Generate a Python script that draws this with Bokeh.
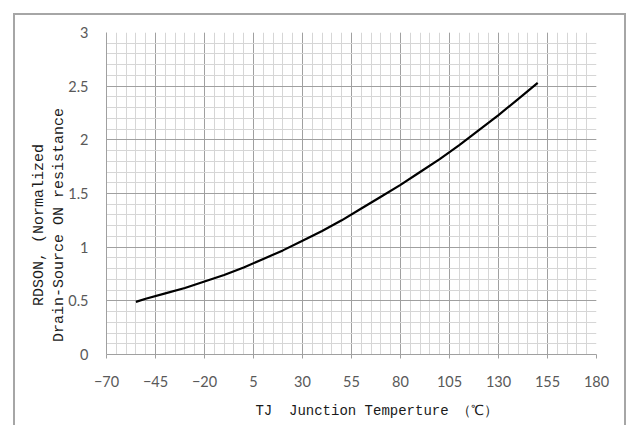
from bokeh.plotting import figure
from bokeh.models import FixedTicker, Range1d
from bokeh.embed import file_html
from bokeh.resources import INLINE
import numpy as np

# Data
temps = [-55, -50, -40, -30, -20, -10, 0, 10, 20, 30, 40, 50, 60, 70, 80, 90, 100, 110, 120, 130, 140, 150]
rdson = [0.49, 0.52, 0.57, 0.62, 0.68, 0.74, 0.81, 0.89, 0.97, 1.06, 1.15, 1.25, 1.36, 1.47, 1.58,
         1.70, 1.82, 1.95, 2.09, 2.23, 2.38, 2.53]

x_ticks = [-70, -45, -20, 5, 30, 55, 80, 105, 130, 155, 180]
x_tick_labels = ["\u221270", "\u221245", "\u221220", "5", "30", "55", "80", "105", "130", "155", "180"]
y_ticks = [0, 0.5, 1, 1.5, 2, 2.5, 3]
y_tick_labels = ["0", "0.5", "1", "1.5", "2", "2.5", "3"]

NB = "\u00a0"
x_title = NB * 6 + "TJ" + NB * 2 + "Junction Temperture \uff08\u2103\uff09"
y_title = "RDSON, (Normalized" + NB * 7 + "\n" + "Drain-Source ON resistance" + NB * 7

frame_css = (
    "linear-gradient(#a6a6a6,#a6a6a6) left 13px top 13px / 2px calc(100% - 13px) no-repeat, "
    "linear-gradient(#a6a6a6,#a6a6a6) left 624px top 13px / 2px calc(100% - 13px) no-repeat, "
    "linear-gradient(#a6a6a6,#a6a6a6) left 13px top 13px / 613px 2px no-repeat, white"
)

p = figure(width=627, height=425, output_backend="svg", toolbar_location=None,
           x_range=Range1d(x_ticks[0], x_ticks[-1]), y_range=Range1d(y_ticks[0], y_ticks[-1]),
           min_border_left=106, min_border_right=31, min_border_top=32, min_border_bottom=71)
p.styles = {"background": frame_css}
p.border_fill_color = None
p.background_fill_color = "white"
p.outline_line_color = None

x_minor = [float(v) for v in np.arange(x_ticks[0], x_ticks[-1] + 0.1, 5)]
y_minor = [round(float(v), 2) for v in np.arange(0, 3.01, 0.1)]
p.xaxis.ticker = FixedTicker(ticks=x_ticks, minor_ticks=x_minor)
p.yaxis.ticker = FixedTicker(ticks=y_ticks, minor_ticks=y_minor)
p.xaxis.major_label_overrides = {t: l for t, l in zip(x_ticks, x_tick_labels)}
p.yaxis.major_label_overrides = {t: l for t, l in zip(y_ticks, y_tick_labels)}

for g in (p.xgrid, p.ygrid):
    g.grid_line_color = "#a0a0a0"
    g.grid_line_width = 1
    g.minor_grid_line_color = "#d6d6d6"
    g.minor_grid_line_width = 1
    g.level = "underlay"

for ax in (p.xaxis, p.yaxis):
    ax.axis_line_color = "#a0a0a0"
    ax.major_tick_line_color = "#a0a0a0"
    ax.minor_tick_line_color = None
    ax.major_tick_in = 0
    ax.major_label_text_font = "Lato"
    ax.major_label_text_font_size = "14.5px"
    ax.major_label_text_color = "#595959"
    ax.axis_label_text_font = "Liberation Mono"
    ax.axis_label_text_font_style = "normal"
    ax.axis_label_text_color = "#1a1a1a"

p.xaxis.major_tick_out = 4
p.yaxis.major_tick_out = 0
p.xaxis.major_label_standoff = 17
p.yaxis.major_label_standoff = 14
p.xaxis.axis_label = x_title
p.yaxis.axis_label = y_title
p.xaxis.axis_label_text_font_size = "14px"
p.yaxis.axis_label_text_font_size = "15px"
p.xaxis.axis_label_standoff = 13
p.yaxis.axis_label_standoff = -3

p.line(temps, rdson, line_color="black", line_width=2.2)

open("out.html", "w").write(file_html(p, INLINE))
